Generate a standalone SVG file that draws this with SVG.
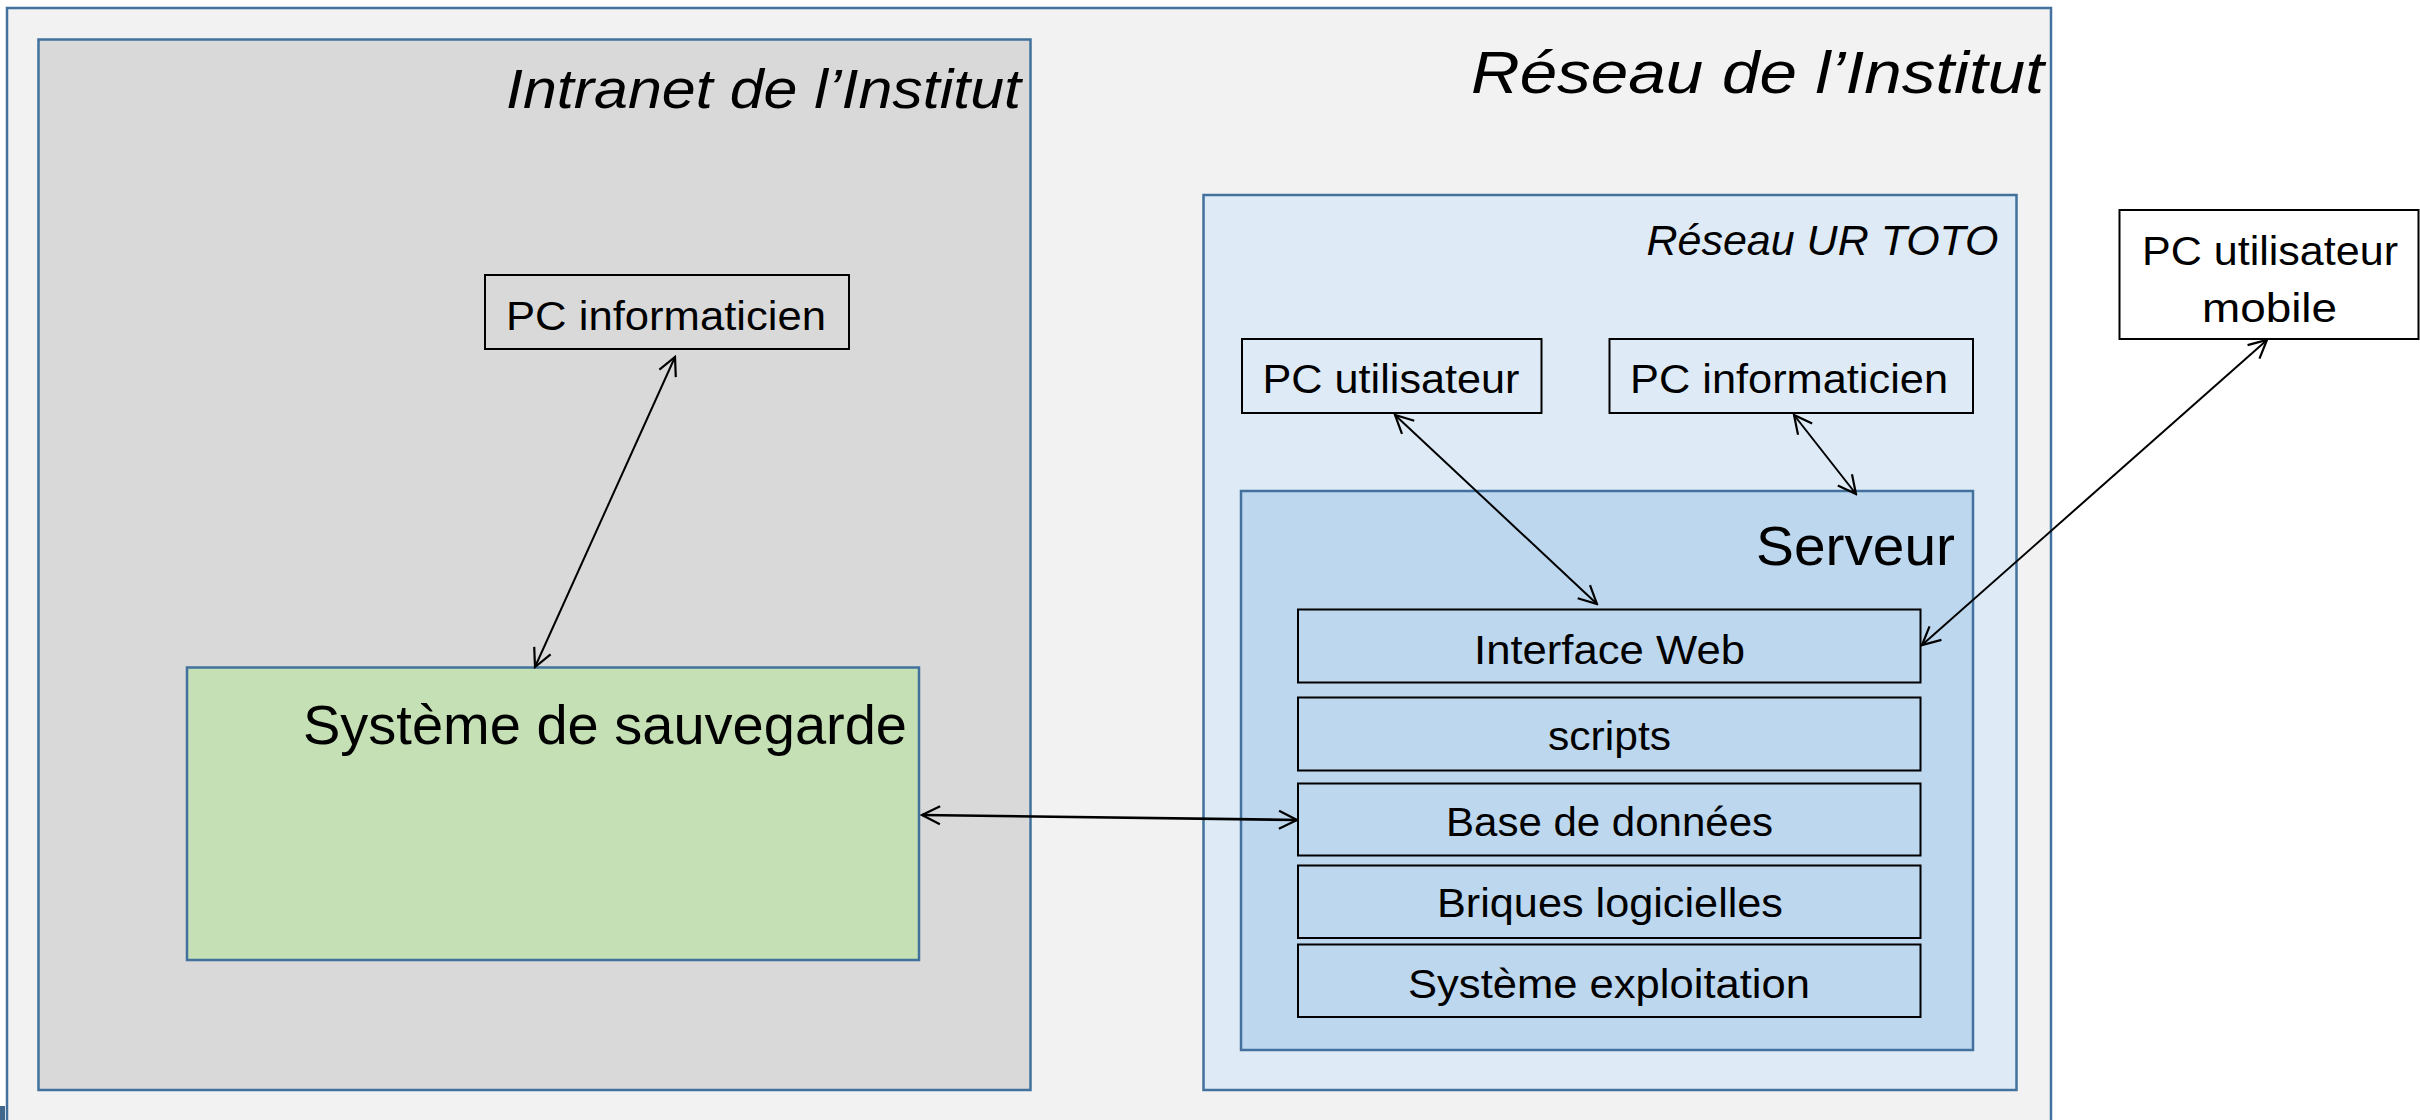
<svg xmlns="http://www.w3.org/2000/svg" width="2420" height="1120" viewBox="0 0 2420 1120">
  <defs>
    <style>
      .zone { stroke: #41719C; stroke-width: 2.5; }
      .box { stroke: #000; stroke-width: 2; }
      .layer { fill: #BDD7EE; stroke: #000; stroke-width: 2; }
      .t { font-family: "Liberation Sans", Arial, sans-serif; fill: #000; }
      .it { font-style: italic; }
      .conn { stroke: #000; stroke-width: 2; fill: none; marker-start: url(#open); marker-end: url(#open); }
      .thick { stroke-width: 2.6; }
    </style>
    <marker id="open" markerUnits="userSpaceOnUse" viewBox="0 0 22 22" markerWidth="22" markerHeight="22" refX="20" refY="11" orient="auto-start-reverse">
      <path d="M2,2 L20,11 L2,20" fill="none" stroke="#000" stroke-width="2.2"/>
    </marker>
  </defs>

  <rect x="0" y="0" width="2420" height="1120" fill="#FFFFFF"/>

  <!-- institute network (outer zone) -->
  <g id="reseau-institut">
    <rect class="zone" x="7" y="8" width="2044" height="1130" fill="#F2F2F2"/>
    <text class="t it" x="1471" y="93" font-size="60" textLength="573" lengthAdjust="spacingAndGlyphs">Réseau de l’Institut</text>
  </g>

  <!-- small corner mark at bottom left -->
  <rect x="0" y="1106" width="5" height="14" fill="#1F4E79" opacity="0.85"/>

  <!-- intranet zone -->
  <g id="intranet">
    <rect class="zone" x="38.5" y="39.5" width="992" height="1050.5" fill="#D9D9D9"/>
    <text class="t it" x="506" y="108" font-size="56" textLength="515" lengthAdjust="spacingAndGlyphs">Intranet de l’Institut</text>
  </g>

  <g id="pc-informaticien-intranet">
    <rect class="box" x="485" y="275" width="364" height="74" fill="#D9D9D9"/>
    <text class="t" x="506" y="330" font-size="41" textLength="320" lengthAdjust="spacingAndGlyphs">PC informaticien</text>
  </g>

  <g id="systeme-sauvegarde">
    <rect class="zone" x="187" y="667.5" width="732" height="292.5" fill="#C5E0B4"/>
    <text class="t" x="303" y="744" font-size="56" textLength="604" lengthAdjust="spacingAndGlyphs">Système de sauvegarde</text>
  </g>

  <!-- UR TOTO network -->
  <g id="reseau-ur-toto">
    <rect class="zone" x="1203.5" y="195" width="813" height="895" fill="#DEEBF7"/>
    <text class="t it" x="1646.5" y="255" font-size="42" textLength="352" lengthAdjust="spacingAndGlyphs">Réseau UR TOTO</text>
  </g>

  <g id="pc-utilisateur">
    <rect class="box" x="1242" y="339" width="299.5" height="74" fill="#DEEBF7"/>
    <text class="t" x="1262.5" y="393" font-size="41" textLength="257" lengthAdjust="spacingAndGlyphs">PC utilisateur</text>
  </g>

  <g id="pc-informaticien-ur">
    <rect class="box" x="1609.5" y="339" width="363.5" height="74" fill="#DEEBF7"/>
    <text class="t" x="1630" y="393" font-size="41" textLength="318" lengthAdjust="spacingAndGlyphs">PC informaticien</text>
  </g>

  <!-- server and its software stack -->
  <g id="serveur">
    <rect class="zone" x="1241" y="491" width="732" height="559" fill="#BDD7EE"/>
    <text class="t" x="1756" y="565" font-size="55" textLength="199" lengthAdjust="spacingAndGlyphs">Serveur</text>
  </g>

  <g id="interface-web">
    <rect class="layer" x="1298" y="609.5" width="622.5" height="73"/>
    <text class="t" x="1474" y="664" font-size="41" textLength="271" lengthAdjust="spacingAndGlyphs">Interface Web</text>
  </g>
  <g id="scripts">
    <rect class="layer" x="1298" y="697.5" width="622.5" height="73"/>
    <text class="t" x="1548" y="750" font-size="41" textLength="123" lengthAdjust="spacingAndGlyphs">scripts</text>
  </g>
  <g id="base-de-donnees">
    <rect class="layer" x="1298" y="783.5" width="622.5" height="72"/>
    <text class="t" x="1446" y="836" font-size="41" textLength="327" lengthAdjust="spacingAndGlyphs">Base de données</text>
  </g>
  <g id="briques-logicielles">
    <rect class="layer" x="1298" y="865.5" width="622.5" height="72.5"/>
    <text class="t" x="1437" y="917" font-size="41" textLength="346" lengthAdjust="spacingAndGlyphs">Briques logicielles</text>
  </g>
  <g id="systeme-exploitation">
    <rect class="layer" x="1298" y="944.5" width="622.5" height="72.5"/>
    <text class="t" x="1408" y="998" font-size="41" textLength="402" lengthAdjust="spacingAndGlyphs">Système exploitation</text>
  </g>

  <!-- roaming user outside the institute -->
  <g id="pc-utilisateur-mobile">
    <rect class="box" x="2119.5" y="210" width="299" height="129" fill="#FFFFFF"/>
    <text class="t" x="2142" y="265" font-size="41" textLength="256" lengthAdjust="spacingAndGlyphs">PC utilisateur</text>
    <text class="t" x="2202" y="322" font-size="41" textLength="135" lengthAdjust="spacingAndGlyphs">mobile</text>
  </g>

  <!-- links -->
  <g id="connectors">
    <line class="conn" x1="675" y1="357" x2="535" y2="667"/>
    <line class="conn thick" x1="922" y1="815" x2="1297" y2="820"/>
    <line class="conn" x1="1395" y1="415" x2="1597" y2="604"/>
    <line class="conn" x1="1794" y1="415" x2="1856" y2="494"/>
    <line class="conn" x1="2267" y1="340" x2="1922" y2="645"/>
  </g>
</svg>
